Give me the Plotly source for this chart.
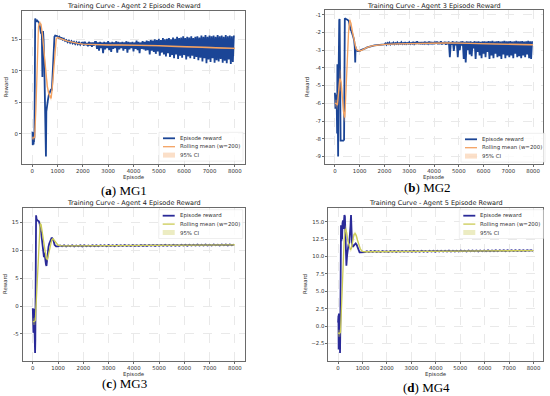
import plotly.graph_objects as go

W, H = 550, 396

# ---------------- shared text / ticks ----------------
EPISODE_TICKS = [0, 1000, 2000, 3000, 4000, 5000, 6000, 7000, 8000]
TITLES = [
    "Training Curve - Agent 2 Episode Reward",
    "Training Curve - Agent 3 Episode Reward",
    "Training Curve - Agent 4 Episode Reward",
    "Training Curve - Agent 5 Episode Reward",
]
CAPTION_LETTERS = ["a", "b", "c", "d"]
CAPTION_NAMES = ["MG1", "MG2", "MG3", "MG4"]
LEGEND_LABELS = ["Episode reward", "Rolling mean (w=200)", "95% CI"]
X_LABEL = "Episode"
Y_LABEL = "Reward"

# ---------------- panel (a) MG1 ----------------
A_EP = [0, 8, 16, 24, 32, 40, 48, 56, 64, 72, 80, 90, 100, 110, 120, 140, 170, 200, 240, 280,
        310, 330, 350, 370, 385, 395, 405, 415, 430, 450, 480, 510, 530, 545, 560, 580, 620, 660, 700, 740,
        780, 820, 850, 880, 910, 950, 1000, 1040, 1080, 1120, 1160, 1200, 1250, 1300, 1350, 1400, 1450, 1500, 1550, 1600,
        1650, 1700, 1750, 1800, 1850, 1900, 1950]
A_R = [0.2, -1.5, 0.3, -1.8, -0.4, -1.4, 0.1, -1.7, -0.7, -1.3, -0.9, -0.4, 4.0, 14.0, 18.3, 18.1, 17.9, 18.0, 17.8, 17.6,
       17.0, 16.2, 15.9, 16.2, 15.5, 12.0, 9.0, 14.5, 16.3, 15.0, 11.0, 5.0, 1.0, -3.6, 3.5, 4.3, 5.3, 6.2, 6.8, 7.0,
       7.0, 10.0, 13.5, 15.4, 15.6, 15.6, 15.5, 15.25, 15.4, 15.05, 15.3, 14.95, 15.1, 14.75, 14.9, 14.55, 14.8, 14.45, 14.7, 14.35,
       14.6, 14.25, 14.55, 14.2, 14.5, 14.15, 14.45]
A_TAIL_START = 2000
A_TAIL_STEP = 40
A_TAIL_R = [
    14.5, 14.0, 14.6, 14.1, 14.4, 13.9, 14.6, 14.0, 14.5, 13.8, 14.5, 14.0, 14.6,
    14.6, 13.5, 14.5, 13.2, 14.6, 13.6, 14.5, 12.8, 14.6, 13.4, 14.5, 13.6, 14.7, 13.3, 14.5, 13.0, 14.6, 13.5, 14.5, 13.6, 14.7, 12.9, 14.6, 13.4, 14.5,
    13.6, 14.6, 13.2, 14.5, 13.5, 14.7, 12.9, 14.6, 13.4, 14.5, 13.6, 14.6, 13.1, 14.5, 13.5, 14.8, 13.3, 14.6, 12.8, 14.5, 13.5, 14.7, 13.4, 14.6, 13.2,
    14.8, 13.3, 14.7, 12.6, 14.9, 13.2, 14.8, 13.0, 15.0, 12.7, 14.9, 13.1, 15.1, 12.4, 14.9, 12.9, 15.2, 12.6, 15.0, 12.3, 15.1, 12.8, 15.2, 12.2, 15.0,
    12.5, 15.3, 12.0, 15.1, 12.6, 15.4, 11.9, 15.2, 12.4, 15.3, 12.1, 15.5, 12.5, 15.2, 11.8, 15.4, 12.3, 15.3, 12.0, 15.5, 12.4, 15.2, 11.9, 15.4, 12.2,
    15.5, 11.7, 15.3, 12.1, 15.6, 11.5, 15.4, 12.0, 15.7, 11.2, 15.4, 11.8, 15.6, 11.4, 15.5, 12.0, 15.6, 11.3, 15.4, 11.7, 15.7, 11.5, 15.5, 11.9, 15.6,
    11.3, 15.4, 11.6, 15.7, 11.2, 15.5, 11.8, 15.6, 11.1, 15.5, 11.4, 15.6,
]
A_ROLL_EP = [0, 50, 100, 150, 200, 250, 300, 350, 400, 450, 500, 550, 600, 650, 700, 750, 800, 850, 900, 950,
             1000, 1100, 1200, 1400, 1600, 1800, 2000, 2500, 3000, 3500, 4000, 4500, 5000, 5500, 6000, 6500, 7000, 7500, 7999]
A_ROLL = [-0.7, -0.7, -0.6, 4.0, 12.0, 17.0, 17.6, 17.4, 16.0, 14.0, 11.5, 9.0, 7.5, 6.5, 6.0, 5.6, 7.5, 10.5, 13.5, 15.0,
          15.3, 15.2, 15.0, 14.7, 14.5, 14.35, 14.25, 14.15, 14.1, 14.1, 14.1, 14.05, 14.0, 13.9, 13.8, 13.75, 13.7, 13.62, 13.55]
A_CI = [0.3, 0.3, 0.5, 1.2, 1.0, 0.6, 0.3, 0.4, 0.6, 0.8, 0.9, 0.9, 0.7, 0.5, 0.4, 0.4, 0.6, 0.8, 0.6, 0.3,
        0.15, 0.1, 0.08, 0.06, 0.05, 0.05, 0.05, 0.06, 0.07, 0.07, 0.07, 0.08, 0.09, 0.1, 0.1, 0.11, 0.11, 0.12, 0.12]

# ---------------- panel (b) MG2 ----------------
B_EP = [0, 8, 16, 24, 32, 40, 48, 56, 64, 72, 80, 90, 100, 110, 120, 130, 140, 150, 160, 175,
        190, 200, 215, 230, 260, 300, 340, 370, 385, 400, 430, 460, 500, 530, 560, 580, 600, 630, 660, 690,
        720, 750, 780, 800, 820, 835, 850, 880, 910, 950, 1000, 1050, 1100, 1200, 1300, 1400, 1500, 1600, 1700, 1800,
        1900]
B_R = [-5.4, -6.2, -5.6, -6.3, -5.8, -6.1, -5.5, -6.3, -5.9, -6.0, -6.5, -7.7, -3.8, -7.7, -5.0, -9.0, -5.5, -1.6, -2.5, -1.3,
       -1.25, -3.0, -8.0, -8.1, -8.1, -8.1, -8.1, -8.05, -5.0, -1.2, -1.25, -1.25, -1.3, -1.3, -1.35, -1.5, -1.8, -1.85, -1.9, -2.0,
       -2.1, -2.3, -2.5, -2.8, -3.7, -2.8, -3.0, -3.0, -3.05, -3.05, -3.05, -3.0, -2.98, -2.92, -2.85, -2.8, -2.76, -2.74, -2.72, -2.71,
       -2.70]
B_TAIL_START = 2000
B_TAIL_STEP = 40
B_TAIL_R = [
    -2.68, -2.62, -2.70, -2.60, -2.66, -2.58, -2.68, -2.62, -2.66, -2.58, -2.67, -2.60, -2.65, -2.57, -2.66, -2.61, -2.64, -2.56, -2.66, -2.60, -2.65, -2.55, -2.66, -2.60, -2.64,
    -2.56, -2.66, -2.60, -2.64, -2.54, -2.66, -2.58, -2.65, -2.50, -2.66, -2.59, -2.64, -2.55, -2.67, -2.58, -2.64, -2.53, -2.66, -2.58, -2.65, -2.52, -2.66, -2.57, -2.64, -2.55,
    -2.66, -2.56, -2.64, -2.52, -2.67, -2.55, -2.66, -2.50, -2.68, -2.56, -2.65, -2.53, -2.70, -2.55, -2.66, -2.52, -3.40, -2.55, -2.70, -2.50, -3.05, -2.54, -2.72, -2.52, -3.40,
    -2.53, -3.00, -2.52, -2.75, -2.50, -3.50, -2.53, -3.70, -2.51, -3.00, -2.52, -3.25, -2.50, -3.35, -2.54, -2.90, -2.50, -3.50, -2.52, -3.10, -2.50, -3.30, -2.53, -3.45, -2.50,
    -3.20, -2.50, -3.40, -2.52, -3.10, -2.49, -3.50, -2.51, -3.30, -2.48, -3.45, -2.52, -3.20, -2.50, -3.40, -2.49, -3.35, -2.52, -3.50, -2.50, -3.25, -2.48, -3.45, -2.51, -3.30,
    -2.50, -3.40, -2.49, -3.30, -2.52, -3.45, -2.50, -3.20, -2.48, -3.40, -2.51, -3.35, -2.50, -3.45, -2.49, -3.30, -2.52, -3.40, -2.50, -3.25, -2.48, -3.45, -2.51, -3.50, -2.50,
]
B_ROLL_EP = [0, 50, 100, 150, 200, 250, 300, 350, 400, 450, 500, 550, 600, 650, 700, 750, 800, 850, 900, 950,
             1000, 1100, 1200, 1300, 1500, 1700, 2000, 2500, 3000, 3500, 4000, 4500, 5000, 5500, 6000, 6500, 7000, 7500, 7999]
B_ROLL = [-6.0, -6.0, -6.1, -5.3, -4.6, -4.8, -5.8, -6.5, -6.8, -5.0, -3.4, -2.0, -1.3, -1.5, -1.9, -2.3, -2.65, -2.9, -3.0, -3.05,
          -3.05, -3.0, -2.92, -2.85, -2.76, -2.72, -2.68, -2.65, -2.63, -2.61, -2.6, -2.6, -2.61, -2.62, -2.63, -2.65, -2.67, -2.69, -2.7]
B_CI = [0.2, 0.2, 0.3, 0.5, 0.6, 0.6, 0.5, 0.4, 0.3, 0.5, 0.5, 0.4, 0.2, 0.15, 0.15, 0.15, 0.15, 0.1, 0.08, 0.05,
        0.04, 0.03, 0.03, 0.02, 0.02, 0.02, 0.02, 0.02, 0.02, 0.02, 0.02, 0.02, 0.03, 0.04, 0.04, 0.04, 0.04, 0.04, 0.04]

# ---------------- panel (c) MG3 ----------------
C_EP = [0, 8, 16, 24, 32, 40, 48, 56, 64, 72, 80, 90, 100, 115, 130, 150, 180, 210, 240, 270,
        300, 330, 360, 390, 420, 440, 460, 480, 500, 520, 540, 560, 590, 620, 650, 680, 710, 740, 770, 800,
        830, 860, 890, 920, 960]
C_R = [-0.4, -3.0, -0.8, -4.8, -1.2, -4.2, -0.5, -5.0, -1.8, -4.5, -2.5, -8.4, -6.0, 8.0, 16.3, 15.6, 15.4, 15.3, 15.2, 14.8,
       14.2, 13.2, 12.0, 10.5, 9.0, 8.8, 9.6, 9.2, 8.2, 7.5, 7.2, 8.0, 9.8, 10.6, 11.2, 11.7, 12.0, 12.2, 12.2, 12.0,
       11.6, 11.0, 10.8, 10.7, 10.7]
C_TAIL_START = 1000
C_TAIL_STEP = 80
C_TAIL_R = [
    10.70, 10.88, 10.72, 10.90, 10.68, 10.89, 10.73, 10.91, 10.70, 10.88, 10.74,
    10.90, 10.71, 10.92, 10.74, 10.89, 10.72, 10.93, 10.75, 10.90, 10.73, 10.92,
    10.76, 10.91, 10.74, 10.94, 10.76, 10.92, 10.75, 10.95, 10.77, 10.93, 10.76,
    10.95, 10.78, 10.94, 10.77, 10.96, 10.79, 10.94, 10.78, 10.97, 10.80, 10.95,
    10.79, 10.97, 10.81, 10.96, 10.80, 10.98, 10.82, 10.96, 10.81, 10.99, 10.83,
    10.97, 10.82, 11.00, 10.84, 10.98, 10.83, 11.01, 10.85, 10.99, 10.84, 11.02,
    10.86, 11.00, 10.85, 11.03, 10.87, 11.01, 10.86, 11.04, 10.88, 11.02, 10.87,
    11.05, 10.89, 11.03, 10.88, 11.06, 10.90, 11.04, 10.89, 11.07, 10.91, 11.05,
]
C_ROLL_EP = [0, 50, 100, 150, 200, 250, 290, 330, 370, 410, 450, 490, 530, 580, 620, 660, 700, 750, 800, 850,
             900, 950, 1000, 1100, 1200, 1500, 2000, 3000, 4000, 5000, 6000, 7000, 7999]
C_ROLL = [-2.8, -2.8, -2.6, 2.0, 7.0, 12.0, 14.8, 14.6, 13.5, 12.0, 10.8, 9.6, 8.6, 8.4, 9.3, 10.3, 11.2, 11.9, 12.1, 11.8,
          11.4, 11.1, 10.95, 10.85, 10.8, 10.8, 10.82, 10.85, 10.88, 10.92, 10.95, 10.98, 11.0]
C_CI = [0.6, 0.6, 0.8, 1.0, 1.0, 0.8, 0.5, 0.4, 0.4, 0.4, 0.4, 0.3, 0.3, 0.3, 0.3, 0.3, 0.3, 0.2, 0.2, 0.2,
        0.2, 0.15, 0.1, 0.05, 0.03, 0.02, 0.02, 0.02, 0.02, 0.02, 0.02, 0.02, 0.02]

# ---------------- panel (d) MG4 ----------------
D_EP = [0, 8, 16, 24, 32, 40, 48, 56, 64, 72, 80, 90, 100, 110, 120, 135, 150, 165, 180, 200,
        220, 240, 260, 280, 300, 320, 340, 370, 400, 430, 460, 490, 510, 530, 550, 570, 600, 640, 680, 720,
        760, 800, 840, 880, 920, 960, 1000, 1050]
D_R = [0.5, -3.0, 1.5, -3.4, 1.8, -2.0, 0.8, -3.2, 1.6, -2.5, -3.9, -1.0, 4.0, 13.0, 14.5, 12.2, 14.0, 12.5, 14.8, 15.2,
       14.0, 15.5, 16.0, 15.8, 12.0, 9.0, 8.7, 10.2, 11.4, 11.8, 12.0, 13.0, 14.5, 16.0, 13.2, 12.0, 11.4, 11.6, 11.8, 11.9,
       11.7, 11.2, 10.7, 10.6, 10.6, 10.6, 10.65, 10.7]
D_TAIL_START = 1100
D_TAIL_STEP = 80
D_TAIL_R = [
    10.64, 10.78, 10.66, 10.79, 10.65, 10.80, 10.67, 10.78, 10.66, 10.80, 10.68,
    10.79, 10.67, 10.81, 10.68, 10.80, 10.67, 10.82, 10.69, 10.80, 10.68, 10.82,
    10.70, 10.81, 10.69, 10.83, 10.70, 10.82, 10.70, 10.84, 10.71, 10.82, 10.70,
    10.84, 10.72, 10.83, 10.71, 10.85, 10.72, 10.84, 10.73, 10.85, 10.72, 10.86,
    10.73, 10.85, 10.74, 10.86, 10.73, 10.87, 10.75, 10.86, 10.74, 10.88, 10.75,
    10.87, 10.76, 10.88, 10.75, 10.89, 10.77, 10.88, 10.76, 10.90, 10.77, 10.89,
    10.78, 10.90, 10.77, 10.91, 10.79, 10.90, 10.78, 10.92, 10.79, 10.91, 10.80,
    10.92, 10.80, 10.91, 10.81, 10.93, 10.80, 10.92, 10.82, 10.93, 10.81,
]
D_ROLL_EP = [0, 50, 100, 150, 200, 250, 300, 350, 400, 450, 500, 550, 600, 650, 700, 750, 800, 850, 900, 950,
             1000, 1100, 1200, 1500, 2000, 3000, 4000, 5000, 6000, 7000, 7999]
D_ROLL = [-1.0, -1.1, -0.9, 4.0, 9.0, 12.5, 14.0, 13.5, 12.3, 11.6, 11.0, 11.2, 12.3, 13.2, 13.3, 13.0, 12.3, 11.7, 11.2, 10.9,
          10.75, 10.7, 10.7, 10.72, 10.74, 10.76, 10.78, 10.8, 10.82, 10.84, 10.86]
D_CI = [0.5, 0.5, 0.6, 1.0, 1.0, 0.8, 0.6, 0.5, 0.4, 0.4, 0.35, 0.35, 0.35, 0.3, 0.3, 0.3, 0.25, 0.2, 0.15, 0.1,
        0.05, 0.03, 0.02, 0.02, 0.02, 0.02, 0.02, 0.02, 0.02, 0.02, 0.02]

# ---------------- styles ----------------
BLUE = "#1b4596"
ORANGE = "#f4a261"
ORANGE_CI = "rgba(244,162,97,0.35)"
NAVY = "#2a2a98"
OLIVE = "#cbcb55"
OLIVE_CI = "rgba(200,200,80,0.35)"
SANS = "DejaVu Sans"
SERIF = "Liberation Serif"


def px_x(p):
    return p / W


def px_y(p):
    return 1 - p / H


panels = [
    dict(ep=A_EP + list(range(A_TAIL_START, 8000, A_TAIL_STEP)), r=A_R + A_TAIL_R,
         rep=A_ROLL_EP, roll=A_ROLL, ci=A_CI, c1=BLUE, c2=ORANGE, cf=ORANGE_CI,
         box=(22, 245, 11, 164), yr=[-4.8, 19.5], yt=[0, 5, 10, 15], ytt=["0", "5", "10", "15"],
         leg=(163, 138.3), cap=(124, 190), title_y=5.7, xlab_y=177.5, ylab_x=5.7),
    dict(ep=B_EP + list(range(B_TAIL_START, 8000, B_TAIL_STEP)), r=B_R + B_TAIL_R,
         rep=B_ROLL_EP, roll=B_ROLL, ci=B_CI, c1=BLUE, c2=ORANGE, cf=ORANGE_CI,
         box=(325, 543, 10, 164), yr=[-9.42, -0.74], yt=[-9, -8, -7, -6, -5, -4, -3, -2, -1],
         ytt=["-9", "-8", "-7", "-6", "-5", "-4", "-3", "-2", "-1"],
         leg=(465, 139.3), cap=(427, 187), title_y=5.7, xlab_y=177.5, ylab_x=307),
    dict(ep=C_EP + list(range(C_TAIL_START, 8000, C_TAIL_STEP)), r=C_R + C_TAIL_R,
         rep=C_ROLL_EP, roll=C_ROLL, ci=C_CI, c1=NAVY, c2=OLIVE, cf=OLIVE_CI,
         box=(22.7, 245, 208, 360.7), yr=[-9.8, 17.6], yt=[-5, 0, 5, 10, 15], ytt=["-5", "0", "5", "10", "15"],
         leg=(162.7, 215.7), cap=(124, 383), title_y=203, xlab_y=374, ylab_x=5.7),
    dict(ep=D_EP + list(range(D_TAIL_START, 8000, D_TAIL_STEP)), r=D_R + D_TAIL_R,
         rep=D_ROLL_EP, roll=D_ROLL, ci=D_CI, c1=NAVY, c2=OLIVE, cf=OLIVE_CI,
         box=(328.3, 543.3, 208, 360.7), yr=[-5.0, 17.0], yt=[-2.5, 0, 2.5, 5, 7.5, 10, 12.5, 15],
         ytt=["\u22122.5", "0.0", "2.5", "5.0", "7.5", "10.0", "12.5", "15.0"],
         leg=(463.3, 215.7), cap=(426, 387), title_y=203, xlab_y=374, ylab_x=305.7),
]

fig = go.Figure()
shapes = []
annotations = []

for i, p in enumerate(panels):
    k = "" if i == 0 else str(i + 1)
    xa, ya = "x" + k, "y" + k
    # episode reward
    fig.add_trace(go.Scatter(x=p["ep"], y=p["r"], mode="lines", xaxis=xa, yaxis=ya,
                             line=dict(color=p["c1"], width=1.8), showlegend=False, hoverinfo="skip"))
    # 95% CI band
    upper = [m + c for m, c in zip(p["roll"], p["ci"])]
    lower = [m - c for m, c in zip(p["roll"], p["ci"])]
    fig.add_trace(go.Scatter(x=p["rep"] + p["rep"][::-1], y=upper + lower[::-1], mode="lines",
                             fill="toself", fillcolor=p["cf"], line=dict(width=0),
                             xaxis=xa, yaxis=ya, showlegend=False, hoverinfo="skip"))
    # rolling mean
    fig.add_trace(go.Scatter(x=p["rep"], y=p["roll"], mode="lines", xaxis=xa, yaxis=ya,
                             line=dict(color=p["c2"], width=1.3), showlegend=False, hoverinfo="skip"))

    x0, x1, y0, y1 = p["box"]
    axis_common = dict(showgrid=True, gridcolor="#e9e9e9", griddash="dash", gridwidth=0.6,
                       zeroline=False, showline=True, linecolor="#6a6a6a", linewidth=0.8, mirror=True,
                       ticks="outside", ticklen=2, tickwidth=0.6, tickcolor="#6a6a6a",
                       tickfont=dict(family=SANS, size=5.4, color="#333333"))
    fig.update_layout(**{
        "xaxis" + k: dict(domain=[px_x(x0), px_x(x1)], anchor=ya, range=[-400, 8400],
                          tickvals=EPISODE_TICKS, ticktext=[str(t) for t in EPISODE_TICKS], **axis_common),
        "yaxis" + k: dict(domain=[px_y(y1), px_y(y0)], anchor=xa, range=p["yr"],
                          tickvals=p["yt"], ticktext=p["ytt"], **axis_common),
    })

    cx = (x0 + x1) / 2
    annotations.append(dict(text=TITLES[i], x=px_x(cx), y=px_y(p["title_y"]), xref="paper", yref="paper",
                            showarrow=False, xanchor="center", yanchor="middle",
                            font=dict(family=SANS, size=6.5, color="#222222")))
    annotations.append(dict(text=X_LABEL, x=px_x(cx), y=px_y(p["xlab_y"]), xref="paper", yref="paper",
                            showarrow=False, xanchor="center", yanchor="middle",
                            font=dict(family=SANS, size=5.4, color="#333333")))
    annotations.append(dict(text=Y_LABEL, x=px_x(p["ylab_x"]), y=px_y((y0 + y1) / 2), xref="paper", yref="paper",
                            showarrow=False, xanchor="center", yanchor="middle", textangle=-90,
                            font=dict(family=SANS, size=5.4, color="#333333")))
    annotations.append(dict(text="(<b>" + CAPTION_LETTERS[i] + "</b>) " + CAPTION_NAMES[i],
                            x=px_x(p["cap"][0]), y=px_y(p["cap"][1]), xref="paper", yref="paper",
                            showarrow=False, xanchor="center", yanchor="middle",
                            font=dict(family=SERIF, size=13, color="#000000")))

    # legend (drawn as layout shapes + text)
    lx, ly = p["leg"]
    gap = 8.4
    shapes.append(dict(type="rect", xref="paper", yref="paper",
                       x0=px_x(lx - 4), x1=px_x(lx + 80), y0=px_y(ly - 6), y1=px_y(ly + 2 * gap + 6),
                       fillcolor="rgba(255,255,255,0.8)", line=dict(color="#e4e4e4", width=0.6), layer="above"))
    shapes.append(dict(type="line", xref="paper", yref="paper", x0=px_x(lx), x1=px_x(lx + 12),
                       y0=px_y(ly), y1=px_y(ly), line=dict(color=p["c1"], width=1.8), layer="above"))
    shapes.append(dict(type="line", xref="paper", yref="paper", x0=px_x(lx), x1=px_x(lx + 12),
                       y0=px_y(ly + gap), y1=px_y(ly + gap), line=dict(color=p["c2"], width=1.3), layer="above"))
    shapes.append(dict(type="rect", xref="paper", yref="paper", x0=px_x(lx), x1=px_x(lx + 12),
                       y0=px_y(ly + 2 * gap - 2.5), y1=px_y(ly + 2 * gap + 2.5),
                       fillcolor=p["cf"], line=dict(width=0), layer="above"))
    for j, lab in enumerate(LEGEND_LABELS):
        annotations.append(dict(text=lab, x=px_x(lx + 15), y=px_y(ly + j * gap), xref="paper", yref="paper",
                                showarrow=False, xanchor="left", yanchor="middle",
                                font=dict(family=SANS, size=5.4, color="#333333")))

fig.update_layout(width=W, height=H, margin=dict(l=0, r=0, t=0, b=0),
                  paper_bgcolor="white", plot_bgcolor="white",
                  shapes=shapes, annotations=annotations, showlegend=False)

fig.write_html("out.html", config={"displayModeBar": False},
               post_script="document.body.style.margin='0px';document.body.style.overflow='hidden';")
